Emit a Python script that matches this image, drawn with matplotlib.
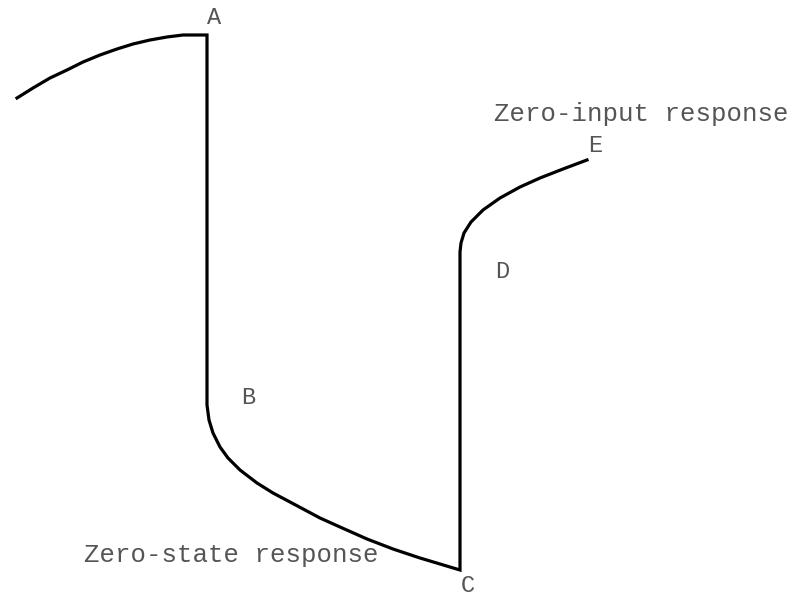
import matplotlib.pyplot as plt

# curve points (pixel-like units, y grows downward)
# arc up to A
arc_x = [17, 33, 50, 67, 83, 100, 117, 133, 150, 167, 183, 200, 207]
arc_y = [98, 88, 78, 70, 62, 55, 49, 44, 40, 37, 35, 35, 35]
# drop A -> B, bend through B, slope down to C
fall_x = [207, 207, 207, 209, 213, 220, 228, 240, 257, 273, 290, 305,
          320, 340, 367, 393, 420, 440, 460]
fall_y = [35, 395, 405, 420, 433, 447, 458, 470, 483, 493, 502, 510,
          518, 527, 539, 549, 558, 564, 570]
# rise C -> D, bend, up to E
rise_x = [460, 460, 461, 464, 471, 483, 500, 520, 540, 563, 587]
rise_y = [570, 252, 243, 233, 222, 210, 198, 187, 178, 169, 160]

point_labels = ['A', 'B', 'C', 'D', 'E']
label_x = [214, 248, 468, 502, 595]
label_y = [18, 397, 586, 272, 146]

notes = ['Zero-input response', 'Zero-state response']
note_x = [641, 231]
note_y = [114, 555]

fig = plt.figure(figsize=(7.93, 5.98), dpi=100)
ax = fig.add_axes([0, 0, 1, 1])
ax.plot(arc_x + fall_x + rise_x, arc_y + fall_y + rise_y,
        color='black', lw=2.3, solid_joinstyle='miter')

for t, x, y in zip(point_labels, label_x, label_y):
    ax.text(x, y, t, fontsize=17, family='Liberation Mono', color='#555555',
            ha='center', va='center')
for t, x, y in zip(notes, note_x, note_y):
    ax.text(x, y, t, fontsize=18.5, family='Liberation Mono', color='#555555',
            ha='center', va='center')

ax.set_xlim(0, 793)
ax.set_ylim(598, 0)
ax.axis('off')
fig.savefig('out.png', dpi=100)
